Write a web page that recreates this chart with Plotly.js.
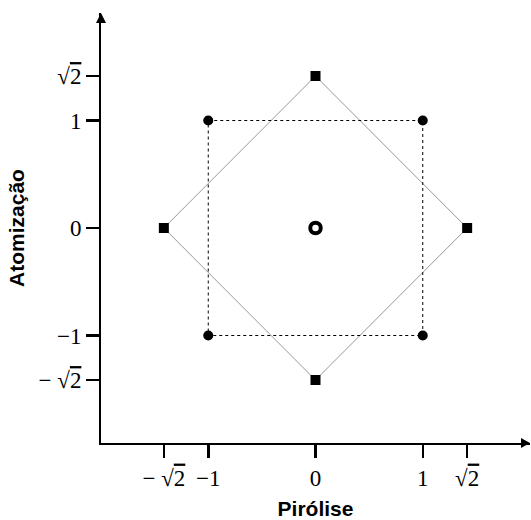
<!DOCTYPE html>
<html>
<head>
<meta charset="utf-8">
<script src="https://cdn.plot.ly/plotly-3.0.1.min.js"></script>
<style>html,body{margin:0;padding:0;background:#fff;}#chart{width:531px;height:520px;}</style>
</head>
<body>
<div id="chart"></div>
<script>
// Design points (Pirólise, Atomização)
const factorialX = [-1, 1, 1, -1];
const factorialY = [1, 1, -1, -1];
const axialX = [0, 1.414, 0, -1.414];
const axialY = [1.414, 0, -1.414, 0];
const centerX = [0];
const centerY = [0];
// Outline paths
const squareX = [-1, 1, 1, -1, -1];
const squareY = [1, 1, -1, -1, 1];
const diamondX = [0, 1.414, 0, -1.414, 0];
const diamondY = [1.414, 0, -1.414, 0, 1.414];
// Ticks
const tickVals = [-1.414, -1, 0, 1, 1.414];
const tickText = [
  '\u2212 \u221A<span style="text-decoration:overline">2</span>',
  '\u22121', '0', '1',
  '\u221A<span style="text-decoration:overline">2</span>'
];

const serif = 'Liberation Serif, Times New Roman, serif';
const sans = 'Liberation Sans, Arial, sans-serif';

const traces = [
  {x: diamondX, y: diamondY, mode: 'lines', line: {color: '#999', width: 1}, hoverinfo: 'skip'},
  {x: squareX, y: squareY, mode: 'lines', line: {color: '#000', width: 1, dash: 'dot'}, hoverinfo: 'skip'},
  {x: factorialX, y: factorialY, mode: 'markers', marker: {symbol: 'circle', size: 10, color: '#000'}},
  {x: axialX, y: axialY, mode: 'markers', marker: {symbol: 'square', size: 10, color: '#000'}},
  {x: centerX, y: centerY, mode: 'markers', marker: {symbol: 'circle-open', size: 10.5, color: '#000', line: {width: 4, color: '#000'}}}
];

const axisCommon = {
  range: [-2, 2],
  tickmode: 'array',
  tickvals: tickVals,
  ticktext: tickText,
  ticks: 'outside',
  ticklen: 13,
  tickwidth: 2.5,
  tickcolor: '#000',
  showline: true,
  linecolor: '#000',
  linewidth: 2,
  showgrid: false,
  zeroline: false,
  tickfont: {family: serif, size: 23, color: '#000'},
  automargin: false,
  fixedrange: true
};

const layout = {
  width: 531,
  height: 520,
  margin: {l: 101, r: 1, t: 13, b: 77},
  paper_bgcolor: '#fff',
  plot_bgcolor: '#fff',
  showlegend: false,
  xaxis: Object.assign({}, axisCommon, {
    title: {text: '<b>Pirólise</b>', font: {family: sans, size: 21, color: '#000'}, standoff: 12}
  }),
  yaxis: Object.assign({}, axisCommon, {
    title: {text: '<b>Atomização</b>', font: {family: sans, size: 21, color: '#000'}, standoff: 8}
  }),
  shapes: [
    {type: 'path', xref: 'paper', yref: 'paper', path: 'M 0.979 0.0116 L 1 0 L 0.979 -0.0116 Z', fillcolor: '#000', line: {width: 0}},
    {type: 'path', xref: 'paper', yref: 'paper', path: 'M -0.0117 0.977 L 0 1 L 0.0117 0.977 Z', fillcolor: '#000', line: {width: 0}}
  ]
};

Plotly.newPlot('chart', traces, layout, {displayModeBar: false, staticPlot: true});
</script>
</body>
</html>
